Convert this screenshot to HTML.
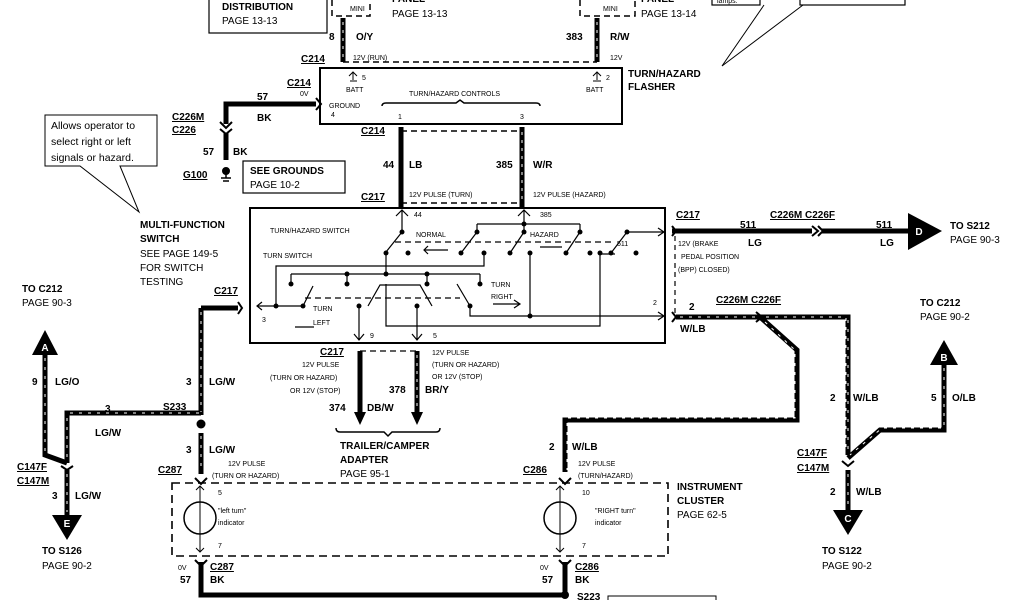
<!DOCTYPE html>
<html><head><meta charset="utf-8"><style>
html,body{margin:0;padding:0;background:#fff;}
svg{display:block;font-family:"Liberation Sans",sans-serif;}
.b{font-weight:bold;font-size:10px;}
.s{font-size:7px;}
.r{font-size:10px;}
.u{text-decoration:underline;font-weight:bold;font-size:10px;}
</style></head><body>
<svg width="1024" height="600" viewBox="0 0 1024 600" xmlns="http://www.w3.org/2000/svg">
<defs>
<g id="ctop"><path d="M-5,-5 L0,0 L5,-5" fill="none" stroke="#000" stroke-width="2"/></g>
</defs>
<g fill="none" stroke="#000">
<!-- top boxes -->
<rect x="209" y="-5" width="118" height="38" stroke-width="1.2"/>
<path d="M332,0 V16 H370 V0 M580,0 V16 H635 V0" stroke-dasharray="6,4" stroke-width="1.5"/>
<rect x="712" y="-6" width="48" height="11" stroke-width="1.2"/>
<rect x="800" y="-6" width="105" height="11" stroke-width="1.2"/>
<path d="M764,5 L722,66 L803,5" stroke-width="1"/>
<!-- top wires -->
<path d="M343,18 V62 M597,18 V62" stroke-width="5"/>
<path d="M343,22 V60 M597,22 V60" stroke="#fff" stroke-width="1" stroke-dasharray="3,5"/>
<path d="M343,62 H597" stroke-dasharray="6,4" stroke-width="1.5"/>
<!-- flasher -->
<rect x="320" y="68" width="302" height="56" stroke-width="2"/>
<path d="M382,106 Q382,103 386,103 H456 L460,100 L464,103 H536 Q540,103 540,106" stroke-width="1.5"/>
<path d="M353,80 V72 M349,76 L353,72 L357,76 M350,81 H357 M597,80 V72 M593,76 L597,72 L601,76 M593,81 H601" stroke-width="1"/>
<!-- ground wire -->
<path d="M316,104 H226 V124 M226,133 V160" stroke-width="5"/>
<path d="M220,122 L226,128 L232,122 M220,129 L226,134 L232,129" stroke-width="2"/>
<path d="M221,178 H231 M223,181 H229 M226,172 V178" stroke-width="1.5"/>
<circle cx="226" cy="171" r="3.5" fill="#000"/>
<path d="M316,98 L321,104 L316,110" stroke-width="2"/>
<rect x="243" y="161" width="102" height="32" stroke-width="1.2"/>
<!-- 44 / 385 -->
<path d="M401,127 V208 M522,127 V208" stroke-width="5"/>
<path d="M522,132 V204" stroke="#fff" stroke-width="1" stroke-dasharray="3,5"/>
<path d="M401,131 H522 M401,203 H522" stroke-dasharray="6,4" stroke-width="1.5"/>
<!-- callout left -->
<path d="M45,115 H157 V166 H120 L139,212 L80,166 H45 Z" stroke-width="1" fill="#fff"/>
<!-- switch box -->
<rect x="250" y="208" width="415" height="135" stroke-width="2"/>
<g stroke-width="1.2">
<path d="M402,210 V232 M396,216 L402,210 L408,216"/>
<path d="M524,210 V224 M518,216 L524,210 L530,216 M477,224 H580 M477,224 V232 M580,224 V232 M524,224 V232"/>
<path d="M402,232 L386,252 M477,232 L461,253 M524,232 L510,253 M580,232 L566,253 M627,232 L611,253 M627,232 H664 M658,228 L664,232 L658,236"/>
<path d="M395,242 H615" stroke-dasharray="6,4"/>
<path d="M386,253 V274 M291,274 H480 M291,274 V284 M347,274 V284 M427,274 V284 M480,274 V284"/>
<path d="M276,306 V266 H484 V254 M530,254 V317 M600,254 H615 M600,254 V326 H386 V284"/>
<path d="M257,306 H303 L313,286 M368,306 L380,285 H420 L432,306 M457,284 L470,306 V316 H664 M658,312 L664,316 L658,320"/>
<path d="M305,298 H460" stroke-dasharray="6,4"/>
<path d="M359,306 V340 M417,306 V340 M354,334 L359,340 L364,334 M412,334 L417,340 L422,334 M262,302 L257,306 L262,310"/>
<path d="M424,250 H448 M295,327 H314 M493,304 H520 M540,247 H562 M514,300 L520,304 L514,308 M428,246 L424,250 L428,254"/>
</g>
<g fill="#000" stroke="none">
<circle cx="402" cy="232" r="2.5"/><circle cx="386" cy="253" r="2.5"/><circle cx="408" cy="253" r="2.5"/>
<circle cx="461" cy="253" r="2.5"/><circle cx="484" cy="253" r="2.5"/><circle cx="477" cy="232" r="2.5"/>
<circle cx="524" cy="232" r="2.5"/><circle cx="524" cy="224" r="2.5"/><circle cx="510" cy="253" r="2.5"/>
<circle cx="530" cy="253" r="2.5"/><circle cx="580" cy="232" r="2.5"/><circle cx="566" cy="253" r="2.5"/>
<circle cx="590" cy="253" r="2.5"/><circle cx="600" cy="253" r="2.5"/><circle cx="611" cy="253" r="2.5"/>
<circle cx="627" cy="232" r="2.5"/><circle cx="636" cy="253" r="2.5"/><circle cx="386" cy="274" r="2.5"/>
<circle cx="291" cy="284" r="2.5"/><circle cx="347" cy="274" r="2.5"/><circle cx="347" cy="284" r="2.5"/>
<circle cx="427" cy="274" r="2.5"/><circle cx="427" cy="284" r="2.5"/><circle cx="480" cy="284" r="2.5"/>
<circle cx="276" cy="306" r="2.5"/><circle cx="303" cy="306" r="2.5"/><circle cx="359" cy="306" r="2.5"/>
<circle cx="417" cy="306" r="2.5"/><circle cx="470" cy="306" r="2.5"/><circle cx="530" cy="316" r="2.5"/>
</g>
<!-- right side wires -->
<path d="M672,231 H812 M822,231 H908" stroke-width="5"/>
<path d="M812,226 L818,231 L812,236 M818,226 L823,231 L818,236 M672,226 L676,231 L672,236 M672,312 L676,317 L672,322" stroke-width="2"/>
<path d="M675,236 V314" stroke-dasharray="5,4" stroke-width="1.2"/>
<path d="M676,317 H760 M760,317 H848 V455 M760,317 L797,350 V420 H565 V472 M944,365 V430 H880 L848,458 M45,355 V455 L67,463 M201,308 V415 M201,433 V474 M201,413 H67 V463 M238,308 H201 M67,470 V515 M848,470 V510" stroke-width="5"/>
<path d="M680,317 H756 M766,317 H846 V453 M848,320 V450 M765,322 L795,350 V418 H567 V470 M944,368 V428 H882 L850,455 M45,358 V452 M201,312 V412 M201,436 V470 M199,413 H69 M67,418 V460 M67,474 V512 M848,474 V508" stroke="#fff" stroke-width="1" stroke-dasharray="3,6"/>
<path d="M756,312 L762,317 L756,322" stroke-width="2"/>
<path d="M238,302 L242,308 L238,314" stroke-width="2"/>
<path d="M842,461 L848,466 L854,461 M61,466 L67,470 L73,466 M195,478 L201,484 L207,478 M559,478 L565,484 L571,478" stroke-width="2"/>
<!-- trailer wires -->
<path d="M360,351 V415 M417,351 V415" stroke-width="5"/>
<path d="M417,355 V410" stroke="#fff" stroke-width="1" stroke-dasharray="3,5"/>
<path d="M360,351 H417" stroke-dasharray="6,4" stroke-width="1.2"/>
<path d="M336,428 Q336,432 340,432 H384 L388,436 L392,432 H436 Q440,432 440,428" stroke-width="1.5"/>
<!-- cluster -->
<rect x="172" y="483" width="496" height="73" stroke-dasharray="8,5" stroke-width="1.6"/>
<circle cx="200" cy="518" r="16" stroke-width="1.5"/><circle cx="560" cy="518" r="16" stroke-width="1.5"/>
<path d="M200,486 V552 M560,486 V552 M196,490 L200,486 L204,490 M196,548 L200,552 L204,548 M556,490 L560,486 L564,490 M556,548 L560,552 L564,548" stroke-width="1"/>
<path d="M201,562 V595 H565 M565,562 V595" stroke-width="5"/>
<path d="M195,560 L201,566 L207,560 M559,560 L565,566 L571,560" stroke-width="2"/>
<rect x="608" y="596" width="108" height="10" stroke-width="1"/>
</g>
<g fill="#000">
<circle cx="201" cy="424" r="4.5"/><circle cx="565" cy="595" r="4"/>
<polygon points="908,213 942,231 908,250"/><polygon points="32,355 45,330 58,355"/>
<polygon points="930,365 944,340 958,365"/><polygon points="52,515 82,515 67,540"/>
<polygon points="833,510 863,510 848,535"/>
<polygon points="354,412 360,425 366,412"/><polygon points="411,412 417,425 423,412"/>
</g>
<g fill="#fff" font-weight="bold" font-size="10" text-anchor="middle">
<text x="919" y="235">D</text><text x="45" y="351">A</text><text x="944" y="361">B</text><text x="67" y="527">E</text><text x="848" y="522">C</text>
</g>
<g fill="#000">
<text x="222" y="10" class="b">DISTRIBUTION</text><text x="222" y="24" class="r">PAGE 13-13</text>
<text x="350" y="11" class="s">MINI</text><text x="392" y="2" class="b">PANEL</text><text x="392" y="17" class="r">PAGE 13-13</text>
<text x="603" y="11" class="s">MINI</text><text x="641" y="2" class="b">PANEL</text><text x="641" y="17" class="r">PAGE 13-14</text>
<text x="717" y="3" class="s">lamps.</text>
<text x="329" y="40" class="b">8</text><text x="356" y="40" class="b">O/Y</text>
<text x="566" y="40" class="b">383</text><text x="610" y="40" class="b">R/W</text>
<text x="301" y="62" class="u">C214</text><text x="353" y="60" class="s">12V (RUN)</text><text x="610" y="60" class="s">12V</text>
<text x="362" y="80" class="s">5</text><text x="346" y="92" class="s">BATT</text><text x="606" y="80" class="s">2</text><text x="586" y="92" class="s">BATT</text>
<text x="409" y="96" class="s">TURN/HAZARD CONTROLS</text>
<text x="329" y="108" class="s">GROUND</text><text x="331" y="117" class="s">4</text><text x="398" y="119" class="s">1</text><text x="520" y="119" class="s">3</text>
<text x="628" y="77" class="b">TURN/HAZARD</text><text x="628" y="90" class="b">FLASHER</text>
<text x="287" y="86" class="u">C214</text><text x="300" y="96" class="s">0V</text>
<text x="257" y="100" class="b">57</text><text x="257" y="121" class="b">BK</text>
<text x="172" y="120" class="u">C226M</text><text x="172" y="133" class="u">C226</text>
<text x="203" y="155" class="b">57</text><text x="233" y="155" class="b">BK</text><text x="183" y="178" class="u">G100</text>
<text x="250" y="174" class="b" font-size="11">SEE GROUNDS</text><text x="250" y="188" class="r">PAGE 10-2</text>
<text x="361" y="134" class="u">C214</text><text x="361" y="200" class="u">C217</text>
<text x="383" y="168" class="b">44</text><text x="409" y="168" class="b">LB</text><text x="496" y="168" class="b">385</text><text x="533" y="168" class="b">W/R</text>
<text x="409" y="197" class="s">12V PULSE (TURN)</text><text x="533" y="197" class="s">12V PULSE (HAZARD)</text>
<text x="51" y="129" font-size="10.5">Allows operator to</text><text x="51" y="145" font-size="10.5">select right or left</text><text x="51" y="161" font-size="10.5">signals or hazard.</text>
<text x="140" y="228" class="b">MULTI-FUNCTION</text><text x="140" y="242" class="b">SWITCH</text>
<text x="140" y="257" class="r">SEE PAGE 149-5</text><text x="140" y="271" class="r">FOR SWITCH</text><text x="140" y="285" class="r">TESTING</text>
<text x="270" y="233" class="s">TURN/HAZARD SWITCH</text><text x="263" y="258" class="s">TURN SWITCH</text>
<text x="414" y="217" class="s">44</text><text x="540" y="217" class="s">385</text>
<text x="416" y="237" class="s">NORMAL</text><text x="530" y="237" class="s">HAZARD</text><text x="617" y="246" class="s">511</text>
<text x="491" y="287" class="s">TURN</text><text x="491" y="299" class="s">RIGHT</text>
<text x="313" y="311" class="s">TURN</text><text x="313" y="325" class="s">LEFT</text>
<text x="262" y="322" class="s">3</text><text x="653" y="305" class="s">2</text><text x="370" y="338" class="s">9</text><text x="433" y="338" class="s">5</text>
<text x="676" y="218" class="u">C217</text><text x="740" y="228" class="b">511</text><text x="748" y="246" class="b">LG</text>
<text x="770" y="218" class="u">C226M C226F</text><text x="876" y="228" class="b">511</text><text x="880" y="246" class="b">LG</text>
<text x="950" y="229" class="b">TO S212</text><text x="950" y="243" class="r">PAGE 90-3</text>
<text x="678" y="246" class="s">12V (BRAKE</text><text x="681" y="259" class="s">PEDAL POSITION</text><text x="678" y="272" class="s">(BPP) CLOSED)</text>
<text x="689" y="310" class="b">2</text><text x="680" y="332" class="b">W/LB</text><text x="716" y="303" class="u">C226M C226F</text>
<text x="920" y="306" class="b">TO C212</text><text x="920" y="320" class="r">PAGE 90-2</text>
<text x="931" y="401" class="b">5</text><text x="952" y="401" class="b">O/LB</text>
<text x="830" y="401" class="b">2</text><text x="853" y="401" class="b">W/LB</text>
<text x="797" y="456" class="u">C147F</text><text x="797" y="471" class="u">C147M</text>
<text x="830" y="495" class="b">2</text><text x="856" y="495" class="b">W/LB</text>
<text x="822" y="554" class="b">TO S122</text><text x="822" y="569" class="r">PAGE 90-2</text>
<text x="677" y="490" class="b">INSTRUMENT</text><text x="677" y="504" class="b">CLUSTER</text><text x="677" y="518" class="r">PAGE 62-5</text>
<text x="214" y="294" class="u">C217</text>
<text x="22" y="292" class="b">TO C212</text><text x="22" y="306" class="r">PAGE 90-3</text>
<text x="32" y="385" class="b">9</text><text x="55" y="385" class="b">LG/O</text>
<text x="186" y="385" class="b">3</text><text x="209" y="385" class="b">LG/W</text>
<text x="105" y="412" class="b">3</text><text x="95" y="436" class="b">LG/W</text><text x="163" y="410" class="u">S233</text>
<text x="186" y="453" class="b">3</text><text x="209" y="453" class="b">LG/W</text>
<text x="158" y="473" class="u">C287</text><text x="228" y="466" class="s">12V PULSE</text><text x="212" y="478" class="s">(TURN OR HAZARD)</text>
<text x="17" y="470" class="u">C147F</text><text x="17" y="484" class="u">C147M</text>
<text x="52" y="499" class="b">3</text><text x="75" y="499" class="b">LG/W</text>
<text x="42" y="554" class="b">TO S126</text><text x="42" y="569" class="r">PAGE 90-2</text>
<text x="320" y="355" class="u">C217</text>
<text x="302" y="367" class="s">12V PULSE</text><text x="270" y="380" class="s">(TURN OR HAZARD)</text><text x="290" y="393" class="s">OR 12V (STOP)</text>
<text x="432" y="355" class="s">12V PULSE</text><text x="432" y="367" class="s">(TURN OR HAZARD)</text><text x="432" y="379" class="s">OR 12V (STOP)</text>
<text x="389" y="393" class="b">378</text><text x="425" y="393" class="b">BR/Y</text>
<text x="329" y="411" class="b">374</text><text x="367" y="411" class="b">DB/W</text>
<text x="340" y="449" class="b">TRAILER/CAMPER</text><text x="340" y="463" class="b">ADAPTER</text><text x="340" y="477" class="r">PAGE 95-1</text>
<text x="549" y="450" class="b">2</text><text x="572" y="450" class="b">W/LB</text>
<text x="523" y="473" class="u">C286</text><text x="578" y="466" class="s">12V PULSE</text><text x="578" y="478" class="s">(TURN/HAZARD)</text>
<text x="218" y="495" class="s">5</text><text x="218" y="548" class="s">7</text><text x="582" y="495" class="s">10</text><text x="582" y="548" class="s">7</text>
<text x="218" y="513" class="s">"left turn"</text><text x="218" y="525" class="s">indicator</text>
<text x="595" y="513" class="s">"RIGHT turn"</text><text x="595" y="525" class="s">indicator</text>
<text x="178" y="570" class="s">0V</text><text x="210" y="570" class="u">C287</text><text x="180" y="583" class="b">57</text><text x="210" y="583" class="b">BK</text>
<text x="540" y="570" class="s">0V</text><text x="575" y="570" class="u">C286</text><text x="542" y="583" class="b">57</text><text x="575" y="583" class="b">BK</text>
<text x="577" y="600" class="u">S223</text>
</g>
</svg>
</body></html>
